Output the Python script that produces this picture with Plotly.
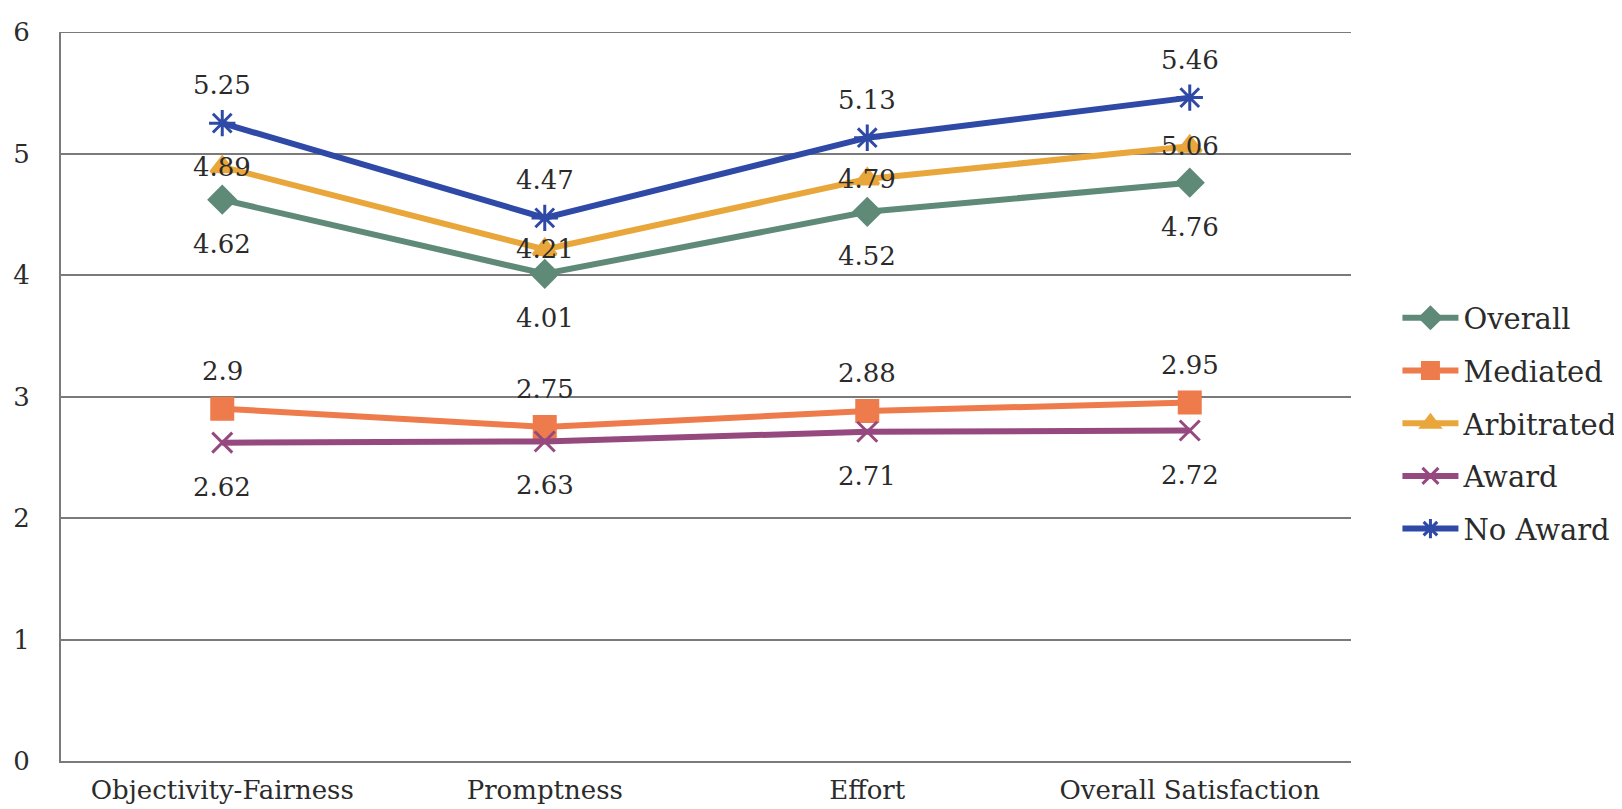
import plotly.graph_objects as go

categories = ["Objectivity-Fairness", "Promptness", "Effort", "Overall Satisfaction"]
overall = [4.62, 4.01, 4.52, 4.76]
mediated = [2.9, 2.75, 2.88, 2.95]
arbitrated = [4.89, 4.21, 4.79, 5.06]
award = [2.62, 2.63, 2.71, 2.72]
no_award = [5.25, 4.47, 5.13, 5.46]
y_ticks = [0, 1, 2, 3, 4, 5, 6]

FONT = "DejaVu Serif"
TXT = "#2b2b2b"
GRID = "#7a7a7a"
# name, values, colour, symbol, marker size, label vertical shift (px)
series = [
    ("Overall", overall, "#5f8a78", "diamond", 20, -44),
    ("Mediated", mediated, "#ee7b4b", "square", 21, 38),
    ("Arbitrated", arbitrated, "#e9a63a", "triangle-up", 20, 0),
    ("Award", award, "#96497f", "x-thin-open", 20, -44),
    ("No Award", no_award, "#2e49a6", "asterisk-open", 22, 38),
]

fig = go.Figure()
annotations = []
for i, (name, vals, color, sym, size, shift) in enumerate(series):
    fig.add_trace(go.Scatter(
        x=categories, y=vals, name=name, mode="lines+markers",
        legendgroup=f"g{i}",
        line=dict(color=color, width=6),
        marker=dict(symbol=sym, size=size, color=color,
                    line=dict(color=color, width=3)),
        cliponaxis=False,
    ))
    for c, v in zip(categories, vals):
        annotations.append(dict(
            x=c, y=v, xref="x", yref="y", text=f"{v:g}", showarrow=False,
            yshift=shift, xanchor="center", yanchor="middle",
            font=dict(family=FONT, size=26, color=TXT),
        ))

fig.update_layout(
    width=1622, height=809,
    margin=dict(l=53, r=279, t=24, b=56, autoexpand=False),
    paper_bgcolor="white", plot_bgcolor="white",
    font=dict(family=FONT, size=26, color=TXT),
    showlegend=True,
    annotations=annotations,
    shapes=[dict(type="line", xref="paper", x0=0, x1=1, yref="y",
                 y0=y_ticks[-1], y1=y_ticks[-1], line=dict(color=GRID, width=2),
                 layer="below")],
    legend=dict(x=1.036, y=0.463, xanchor="left", yanchor="middle",
                font=dict(family=FONT, size=29, color=TXT),
                itemwidth=56, tracegroupgap=12, bgcolor="rgba(0,0,0,0)"),
    xaxis=dict(showgrid=False, showline=True, linecolor=GRID, linewidth=2,
               ticks="", range=[-0.5, 3.5], tickfont=dict(size=26),
               ticklabelstandoff=5, automargin=False),
    yaxis=dict(range=[0, 6], tickvals=y_ticks, showgrid=True, gridcolor=GRID,
               gridwidth=2, showline=True, linecolor=GRID, linewidth=2,
               ticks="", zeroline=False, ticklabelstandoff=24,
               ticklabeloverflow="allow", automargin=False,
               tickfont=dict(size=26)),
)

fig.write_html("out.html")
